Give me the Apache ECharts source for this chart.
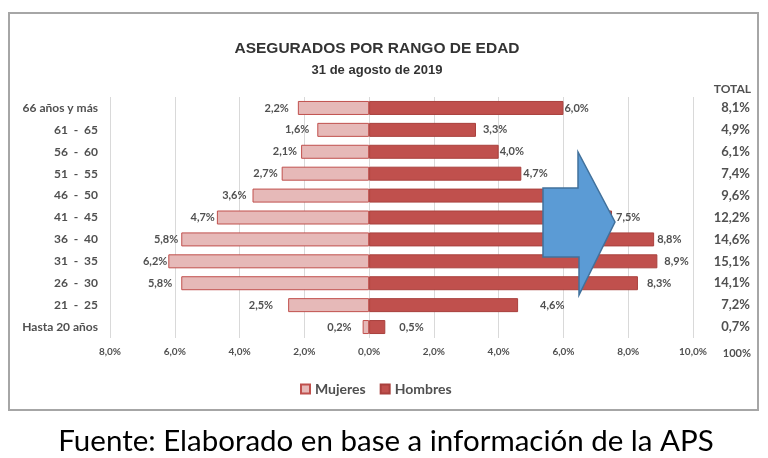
<!DOCTYPE html>
<html>
<head>
<meta charset="utf-8">
<script src="https://cdn.jsdelivr.net/npm/echarts@6/dist/echarts.min.js"></script>
<style>
html,body{margin:0;padding:0;background:#fff;}
#c{width:768px;height:458px;}
</style>
</head>
<body>
<div id="c"></div>
<script>
var categories = ['66 años y más','61  -  65','56  -  60','51  -  55','46  -  50','41  -  45','36  -  40','31  -  35','26  -  30','21  -  25','Hasta 20 años'];
var mujeres = [2.2,1.6,2.1,2.7,3.6,4.7,5.8,6.2,5.8,2.5,0.2];
var hombres = [6.0,3.3,4.0,4.7,6.0,7.5,8.8,8.9,8.3,4.6,0.5];
var totales = ['8,1%','4,9%','6,1%','7,4%','9,6%','12,2%','14,6%','15,1%','14,1%','7,2%','0,7%'];
var xTicks = {min:-8, max:10, interval:2};
// label gaps (style only)
var gapM = [9,8,4,4,6,2,3,1,9,15,11];
var gapH = [1,7,1,2,2,4,3,7,9,22,14];

function pct(v){ return Math.abs(v).toFixed(1).replace('.',',') + '%'; }

var chart = echarts.init(document.getElementById('c'));
var txt = '#505050';
var font = 'Lato, "Open Sans", sans-serif';
var narrow = '"Liberation Sans Narrow", "Liberation Sans", Arial, sans-serif';

chart.setOption({
  backgroundColor:'#fff',
  animation:false,
  title:{
    text:'ASEGURADOS POR RANGO DE EDAD',
    subtext:'31 de agosto de 2019',
    left:372, textAlign:'center', top:36,
    itemGap:7,
    textStyle:{fontFamily:narrow, fontWeight:'bold', fontSize:15.5, color:'#333'},
    subtextStyle:{fontFamily:narrow, fontWeight:'bold', fontSize:13, color:'#333'}
  },
  legend:{
    data:['Mujeres','Hombres'],
    left:295, top:377,
    itemWidth:9, itemHeight:9, itemGap:14, icon:'rect',
    textStyle:{fontFamily:font, fontWeight:'bold', fontSize:14, color:txt}
  },
  grid:{left:110, right:75, top:97, bottom:120, containLabel:false},
  xAxis:{
    type:'value', min:xTicks.min, max:xTicks.max, interval:xTicks.interval,
    axisLine:{show:false}, axisTick:{show:false},
    splitLine:{show:true, lineStyle:{color:'#D9D9D9', width:1}},
    axisLabel:{formatter:function(v){return pct(v);}, fontFamily:font, fontWeight:'bold', fontSize:10, color:txt, margin:9}
  },
  yAxis:[{
    type:'category', inverse:true, data:categories,
    axisLine:{show:false}, axisTick:{show:false},
    axisLabel:{fontFamily:font, fontWeight:'bold', fontSize:12, color:txt, margin:12}
  },{
    type:'category', inverse:true, data:totales, position:'right',
    axisLine:{show:false}, axisTick:{show:false}, splitLine:{show:false},
    axisLabel:{fontFamily:font, fontWeight:'bold', fontSize:13, color:txt, margin:57, align:'right', padding:[10,0,0,0]}
  }],
  series:[{
    name:'Mujeres', type:'bar', yAxisIndex:0,
    data:mujeres.map(function(v,i){return {value:-v, label:{distance:gapM[i]}};}),
    barWidth:14, barGap:'-100%',
    itemStyle:{color:'#E6B9B8', borderColor:'#C0504D', borderWidth:1},
    label:{show:true, position:'left', formatter:function(p){return pct(p.value);},
      fontFamily:font, fontWeight:'bold', fontSize:11, color:txt}
  },{
    name:'Hombres', type:'bar', yAxisIndex:0,
    data:hombres.map(function(v,i){return {value:v, label:{distance:gapH[i]}};}),
    barWidth:14, barGap:'-100%',
    itemStyle:{color:'#C0504D', borderColor:'#A9403D', borderWidth:1},
    label:{show:true, position:'right', formatter:function(p){return pct(p.value);},
      fontFamily:font, fontWeight:'bold', fontSize:11, color:txt}
  }],
  graphic:[
    {type:'rect', shape:{x:9, y:13, width:749, height:397}, style:{fill:'none', stroke:'#A6A6A6', lineWidth:2}, z:-1},
    {type:'text', x:751, y:89, style:{text:'TOTAL', fill:txt, font:'bold 12px Lato, sans-serif', textAlign:'right', textVerticalAlign:'middle'}},
    {type:'text', x:751, y:353, style:{text:'100%', fill:txt, font:'bold 11px Lato, sans-serif', textAlign:'right', textVerticalAlign:'middle'}},
    {type:'polygon', z:100, shape:{points:[[543,188],[578,188],[578,152],[615,222],[579,295],[579,257],[543,257]]},
      style:{fill:'#5B9BD5', stroke:'#41719C', lineWidth:1.5}},
    {type:'text', x:386, y:441, style:{text:'Fuente: Elaborado en base a información de la APS', fill:'#000', font:'29.5px Lato, sans-serif', textAlign:'center', textVerticalAlign:'middle'}}
  ]
});
</script>
</body>
</html>
